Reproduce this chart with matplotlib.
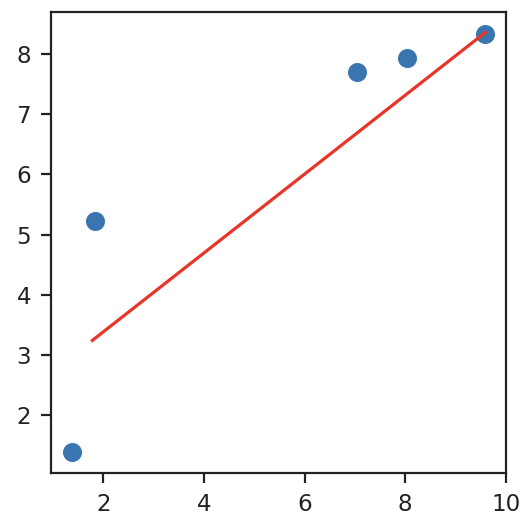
import matplotlib
matplotlib.use("Agg")
import matplotlib.pyplot as plt

# Data
x_points = [1.37, 1.83, 7.04, 8.04, 9.59]
y_points = [1.39, 5.22, 7.70, 7.93, 8.34]
line_x = [1.78, 9.59]
line_y = [3.24, 8.36]

dpi = 144
fig = plt.figure(figsize=(520 / dpi, 530 / dpi), dpi=dpi)
ax = fig.add_axes([51 / 520, 1 - 472.7 / 530, (506 - 51) / 520, (472.7 - 11.5) / 530])

ax.scatter(x_points, y_points, s=100, color="#3a75af", edgecolors="white", linewidths=0.5, zorder=2)
ax.plot(line_x, line_y, color="#e8352a", linewidth=1.6, zorder=3)

ax.set_xticks([2, 4, 6, 8, 10])
ax.set_yticks([2, 3, 4, 5, 6, 7, 8])
ax.tick_params(labelsize=11.5, length=5, width=1.1, pad=5, colors="#222222", labelcolor="#222222")
for sp in ax.spines.values():
    sp.set_linewidth(1.1)
    sp.set_color("#222222")

fig.savefig("out.png", dpi=dpi)
